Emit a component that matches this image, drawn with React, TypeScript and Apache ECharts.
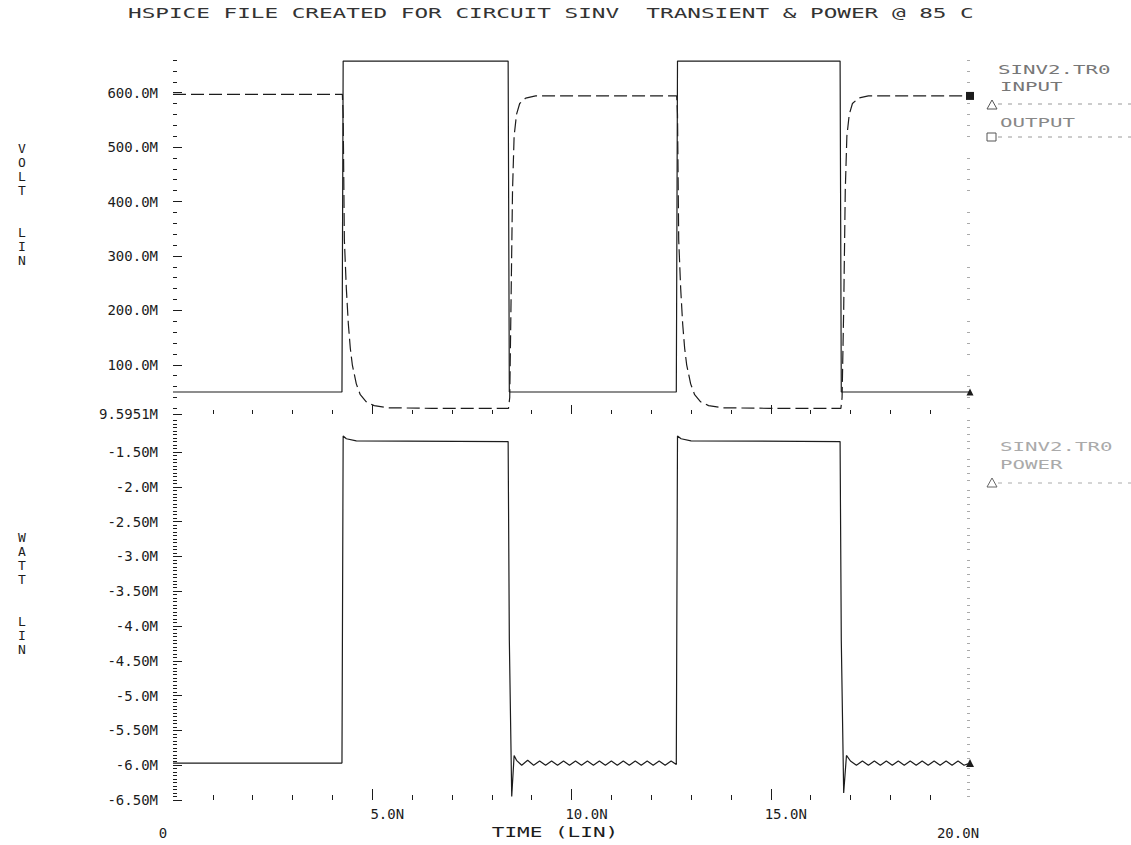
import React, { useEffect, useRef } from "react";
import * as echarts from "echarts";

// ---------- texts ----------
const titleText = "HSPICE FILE CREATED FOR CIRCUIT SINV  TRANSIENT & POWER @ 85 C";
const fileName = "SINV2.TR0";
const legendTop = ["INPUT", "OUTPUT"];
const legendBottom = ["POWER"];
const voltAxisTitle = "V\nO\nL\nT\n\n\nL\nI\nN";
const wattAxisTitle = "W\nA\nT\nT\n\n\nL\nI\nN";
const timeAxisTitle = "TIME (LIN)";

// ---------- axes ----------
const voltMin = 9.5951;
const voltMax = 660;
const voltTickValues = [9.5951, 100, 200, 300, 400, 500, 600];
const voltTickLabels = ["9.5951M", "100.0M", "200.0M", "300.0M", "400.0M", "500.0M", "600.0M"];

const wattMin = -6.5;
const wattMax = -0.954;
const wattTickValues = [-1.5, -2, -2.5, -3, -3.5, -4, -4.5, -5, -5.5, -6, -6.5];
const wattTickLabels = ["-1.50M", "-2.0M", "-2.50M", "-3.0M", "-3.50M", "-4.0M", "-4.50M", "-5.0M", "-5.50M", "-6.0M", "-6.50M"];

const timeMin = 0;
const timeMax = 20;
const timeTickValues = [0, 5, 10, 15, 20];
const timeTickLabels = ["0", "5.0N", "10.0N", "15.0N", "20.0N"];

// ---------- series (time in ns, volt in mV "M", watt in mW "M") ----------
const inputT = [0, 4.24, 4.27, 8.41, 8.44, 12.63, 12.66, 16.74, 16.77, 20];
const inputV = [50, 50, 658, 658, 50, 50, 658, 658, 50, 50];

const outputT = [
  0, 4.25, 4.27, 4.3, 4.35, 4.4, 4.45, 4.5, 4.6, 4.7, 4.85, 5.05, 5.4, 6.5, 8.42,
  8.45, 8.48, 8.52, 8.56, 8.62, 8.7, 8.85, 9.1, 12.64,
  12.66, 12.69, 12.74, 12.79, 12.84, 12.89, 12.99, 13.09, 13.24, 13.44, 13.8, 15, 16.76,
  16.79, 16.83, 16.87, 16.91, 16.97, 17.05, 17.2, 17.45, 20,
];
const outputV = [
  597, 597, 560, 330, 240, 175, 130, 100, 65, 45, 32, 25, 21, 20, 20,
  40, 200, 420, 520, 560, 580, 590, 594, 594,
  560, 330, 240, 175, 130, 100, 65, 45, 32, 25, 21, 20, 20,
  40, 200, 420, 520, 560, 580, 590, 594, 594,
];

const powerT = [
  0, 4.24, 4.27, 4.35, 4.6, 8.41, 8.44, 8.5, 8.56,
  8.62, 8.75, 8.9, 9.05, 9.2, 9.35, 9.5, 9.65, 9.8, 9.95, 10.1, 10.25, 10.4, 10.55, 10.7,
  10.85, 11.0, 11.15, 11.3, 11.45, 11.6, 11.75, 11.9, 12.05, 12.2, 12.35, 12.5, 12.63,
  12.66, 12.75, 13.0, 16.74, 16.77, 16.83, 16.9,
  17.0, 17.15, 17.3, 17.45, 17.6, 17.75, 17.9, 18.05, 18.2, 18.35, 18.5, 18.65, 18.8,
  18.95, 19.1, 19.25, 19.4, 19.55, 19.7, 19.85, 20,
];
const powerV = [
  -5.97, -5.97, -1.27, -1.31, -1.34, -1.35, -4.2, -6.45, -5.86,
  -5.93, -6.0, -5.93, -6.0, -5.94, -6.0, -5.94, -6.0, -5.94, -6.0, -5.94, -6.0, -5.94, -6.0, -5.94,
  -6.0, -5.94, -6.0, -5.94, -6.0, -5.94, -6.0, -5.94, -6.0, -5.94, -6.0, -5.94, -5.99,
  -1.27, -1.31, -1.34, -1.35, -4.2, -6.4, -5.86,
  -5.94, -6.0, -5.94, -6.0, -5.94, -6.0, -5.94, -6.0, -5.94, -6.0, -5.94, -6.0, -5.94,
  -6.0, -5.94, -6.0, -5.94, -6.0, -5.94, -6.0, -5.97,
];

const MONO = '"DejaVu Sans Mono", "Liberation Mono", monospace';
const INK = "#1c1c1c";

function zip(t: number[], v: number[]) {
  return t.map((x, i) => [x, v[i]]);
}

function lookup(values: number[], labels: string[], v: number) {
  const i = values.findIndex((t) => Math.abs(t - v) < 1e-6);
  return i >= 0 ? labels[i] : "";
}

export default function App() {
  const ref = useRef<HTMLDivElement>(null);

  useEffect(() => {
    if (!ref.current) return;
    const chart = echarts.init(ref.current, undefined, { renderer: "svg" });

    const voltMinor: number[] = [];
    for (let v = 20; v <= 660; v += 20) if (v % 100 !== 0) voltMinor.push(v);
    const wattMinor: number[] = [];
    for (let k = -130; k <= -20; k++) if (k % 10 !== 0) wattMinor.push(k / 20);
    const timeMinor: number[] = [];
    for (let t = 1; t < 20; t++) if (t % 5 !== 0) timeMinor.push(t);
    const timeMajor = [5, 10, 15];

    const tickStyle = { color: INK, width: 1 };
    const hidden = { show: false };

    const xBase = (grid: number) => ({
      type: "value" as const,
      gridIndex: grid,
      min: timeMin,
      max: timeMax,
      position: "bottom" as const,
      axisLine: hidden,
      splitLine: hidden,
    });

    const yBase = (grid: number, min: number, max: number, pos: "left" | "right") => ({
      type: "value" as const,
      gridIndex: grid,
      min,
      max,
      position: pos,
      axisLine: hidden,
      splitLine: hidden,
    });

    const endMark = (x: number, y: number, symbol: string, size: number) => ({
      symbol,
      symbolSize: size,
      label: { show: false },
      itemStyle: { color: INK },
      data: [{ coord: [x, y] }],
    });

    const option: any = {
      animation: false,
      backgroundColor: "#ffffff",
      grid: [
        { left: 173, top: 60, width: 797, height: 354 },
        { left: 173, top: 414, width: 797, height: 386 },
      ],
      xAxis: [
        { ...xBase(0), axisTick: { inside: true, length: 4, customValues: timeMinor, lineStyle: tickStyle }, axisLabel: hidden },
        { ...xBase(0), axisTick: { inside: true, length: 9, customValues: timeMajor, lineStyle: tickStyle }, axisLabel: hidden },
        { ...xBase(1), axisTick: { inside: true, length: 5, customValues: timeMinor, lineStyle: tickStyle }, axisLabel: hidden },
        {
          ...xBase(1),
          axisTick: { inside: true, length: 11, customValues: timeMajor, lineStyle: tickStyle },
          axisLabel: {
            show: true,
            customValues: timeTickValues,
            margin: 7,
            formatter: (v: number) => {
              const s = lookup(timeTickValues, timeTickLabels, v);
              if (v === timeMin) return "{lo|" + s + "}";
              if (v === timeMax) return "{end|" + s + "}";
              return "{hi|" + s + "}";
            },
            rich: {
              hi: { fontFamily: MONO, fontSize: 14, color: INK, padding: [0, 0, 0, 30] },
              lo: { fontFamily: MONO, fontSize: 14, color: INK, padding: [19, 20, 0, 0] },
              end: { fontFamily: MONO, fontSize: 14, color: INK, padding: [19, 24, 0, 0] },
            },
          },
        },
      ],
      yAxis: [
        {
          ...yBase(0, voltMin, voltMax, "left"),
          axisTick: { inside: true, length: 9, customValues: voltTickValues, lineStyle: tickStyle },
          axisLabel: {
            show: true,
            customValues: voltTickValues,
            margin: 15,
            fontFamily: MONO,
            fontSize: 14,
            color: INK,
            formatter: (v: number) => lookup(voltTickValues, voltTickLabels, v),
          },
        },
        { ...yBase(0, voltMin, voltMax, "left"), axisTick: { inside: true, length: 4, customValues: voltMinor, lineStyle: tickStyle }, axisLabel: hidden },
        { ...yBase(0, voltMin, voltMax, "right"), axisTick: { inside: true, length: 3, customValues: voltMinor, lineStyle: { color: "#aaaaaa", width: 1 } }, axisLabel: hidden },
        {
          ...yBase(1, wattMin, wattMax, "left"),
          axisTick: { inside: true, length: 9, customValues: wattTickValues, lineStyle: tickStyle },
          axisLabel: {
            show: true,
            customValues: wattTickValues,
            margin: 15,
            fontFamily: MONO,
            fontSize: 14,
            color: INK,
            formatter: (v: number) => lookup(wattTickValues, wattTickLabels, v),
          },
        },
        { ...yBase(1, wattMin, wattMax, "left"), axisTick: { inside: true, length: 4, customValues: wattMinor, lineStyle: tickStyle }, axisLabel: hidden },
        { ...yBase(1, wattMin, wattMax, "right"), axisTick: { inside: true, length: 3, customValues: wattMinor.filter((_, i) => i % 2 === 0), lineStyle: { color: "#aaaaaa", width: 1 } }, axisLabel: hidden },
      ],
      series: [
        {
          name: "INPUT",
          type: "line",
          xAxisIndex: 0,
          yAxisIndex: 0,
          data: zip(inputT, inputV),
          symbol: "none",
          lineStyle: { color: INK, width: 1.2 },
          markPoint: endMark(inputT[inputT.length - 1], inputV[inputV.length - 1], "triangle", 7),
        },
        {
          name: "OUTPUT",
          type: "line",
          xAxisIndex: 0,
          yAxisIndex: 0,
          data: zip(outputT, outputV),
          symbol: "none",
          lineStyle: { color: INK, width: 1.2, type: [13, 5] },
          markPoint: endMark(outputT[outputT.length - 1], outputV[outputV.length - 1], "rect", 8),
        },
        {
          name: "POWER",
          type: "line",
          xAxisIndex: 2,
          yAxisIndex: 3,
          data: zip(powerT, powerV),
          symbol: "none",
          lineStyle: { color: INK, width: 1.2 },
          markPoint: endMark(powerT[powerT.length - 1], powerV[powerV.length - 1], "triangle", 8),
        },
      ],
      graphic: [
        {
          type: "text",
          x: 128,
          y: 13,
          scaleX: 1.62,
          style: { text: titleText, font: "14px " + MONO, fill: "#333", align: "left", verticalAlign: "middle" },
        },
        {
          type: "text",
          x: 22,
          y: 204,
          style: { text: voltAxisTitle, font: "13px " + MONO, fill: INK, align: "center", verticalAlign: "middle", lineHeight: 14 },
        },
        {
          type: "text",
          x: 22,
          y: 593,
          style: { text: wattAxisTitle, font: "13px " + MONO, fill: INK, align: "center", verticalAlign: "middle", lineHeight: 14 },
        },
        {
          type: "text",
          x: 555,
          y: 832,
          scaleX: 1.5,
          style: { text: timeAxisTitle, font: "14px " + MONO, fill: INK, align: "center", verticalAlign: "middle" },
        },
        // top legend
        { type: "text", x: 998, y: 70, scaleX: 1.6, style: { text: fileName, font: "13px " + MONO, fill: "#777", align: "left", verticalAlign: "middle" } },
        { type: "text", x: 1000, y: 87, scaleX: 1.6, style: { text: legendTop[0], font: "13px " + MONO, fill: "#777", align: "left", verticalAlign: "middle" } },
        { type: "polygon", shape: { points: [[987, 109], [997, 109], [992, 100]] }, style: { fill: "none", stroke: "#555", lineWidth: 1 } },
        { type: "line", shape: { x1: 998, y1: 104, x2: 1131, y2: 104 }, style: { stroke: "#999", lineWidth: 1, lineDash: [4, 6] } },
        { type: "text", x: 1000, y: 123, scaleX: 1.6, style: { text: legendTop[1], font: "13px " + MONO, fill: "#888", align: "left", verticalAlign: "middle" } },
        { type: "rect", shape: { x: 987, y: 133, width: 9, height: 8 }, style: { fill: "none", stroke: "#555", lineWidth: 1 } },
        { type: "line", shape: { x1: 998, y1: 137, x2: 1131, y2: 137 }, style: { stroke: "#999", lineWidth: 1, lineDash: [4, 6] } },
        // bottom legend
        { type: "text", x: 1000, y: 447, scaleX: 1.6, style: { text: fileName, font: "13px " + MONO, fill: "#aaa", align: "left", verticalAlign: "middle" } },
        { type: "text", x: 1000, y: 465, scaleX: 1.6, style: { text: legendBottom[0], font: "13px " + MONO, fill: "#aaa", align: "left", verticalAlign: "middle" } },
        { type: "polygon", shape: { points: [[987, 487], [997, 487], [992, 478]] }, style: { fill: "none", stroke: "#666", lineWidth: 1 } },
        { type: "line", shape: { x1: 998, y1: 483, x2: 1131, y2: 483 }, style: { stroke: "#aaa", lineWidth: 1, lineDash: [4, 6] } },
      ],
    };

    chart.setOption(option);
    return () => chart.dispose();
  }, []);

  return (
    <div
      ref={ref}
      style={{ position: "fixed", left: 0, top: 0, width: 1131, height: 845, background: "#fff" }}
    />
  );
}
